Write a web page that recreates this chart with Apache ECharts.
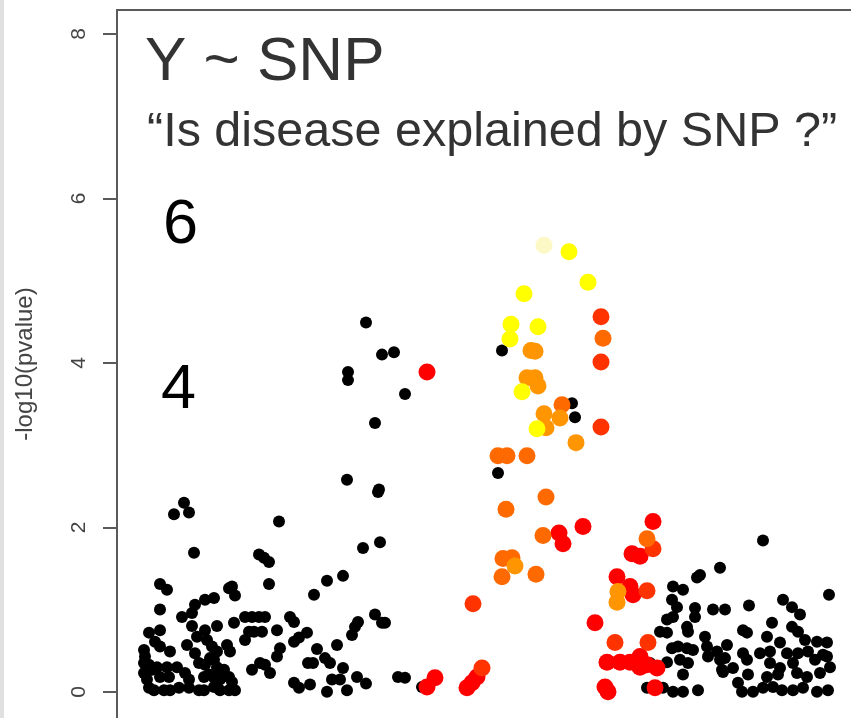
<!DOCTYPE html>
<html><head><meta charset="utf-8">
<script src="https://cdn.jsdelivr.net/npm/echarts@6/dist/echarts.min.js"></script>
<style>html,body{margin:0;padding:0;background:#fff}#c{width:851px;height:718px}</style>
</head><body><div id="c"></div>
<script>
// y-axis tick values (-log10 p)
const yTicks = [0, 2, 4, 6, 8];

// [position, -log10(pvalue)]
const blackPts = [
[67,2.30],[57,2.16],[72,2.18],[162,2.07],[77,1.69],[142,1.67],[147,1.63],[152,1.58],[152,1.31],[43,1.31],[50,1.24],[115,1.28],[112,1.26],[118,1.17],[88,1.12],[97,1.14],[78,1.06],[75,0.96],[43,1.00],[65,0.91],[128,0.91],[135,0.91],[142,0.91],[148,0.91],[173,0.91],[177,0.85],[117,0.84],[100,0.80],[75,0.80],[32,0.72],[43,0.75],[88,0.75],[132,0.73],[137,0.73],[145,0.73],[160,0.75],[128,0.63],[177,0.61],[182,0.66],[38,0.61],[43,0.55],[27,0.51],[28,0.43],[70,0.57],[53,0.49],[78,0.47],[90,0.63],[95,0.55],[100,0.49],[110,0.57],[113,0.49],[163,0.53],[160,0.43],[27,0.35],[32,0.33],[40,0.30],[50,0.30],[60,0.30],[82,0.35],[88,0.33],[97,0.39],[100,0.30],[107,0.27],[135,0.27],[143,0.35],[148,0.33],[153,0.23],[27,0.23],[30,0.15],[43,0.18],[52,0.18],[68,0.23],[72,0.15],[87,0.18],[92,0.21],[97,0.17],[103,0.15],[112,0.18],[115,0.12],[177,0.11],[182,0.05],[32,0.05],[37,0.02],[47,0.02],[53,0.02],[62,0.05],[72,0.05],[82,0.02],[87,0.02],[97,0.06],[103,0.02],[112,0.02],[118,0.02],[35,0.27],[93,0.41],[80,0.67],[102,0.24],
[261,2.43],[263,1.82],[246,1.75],[226,1.41],[210,1.35],[197,1.18],[258,0.94],[241,0.85],[238,0.79],[268,0.84],[265,0.84],[190,0.72],[235,0.69],[220,0.57],[200,0.52],[208,0.41],[213,0.35],[191,0.35],[196,0.35],[226,0.29],[215,0.15],[223,0.15],[240,0.18],[249,0.10],[193,0.09],[210,0.00],[230,0.02],[281,0.18],[288,0.17],[305,0.06],[249,4.49],[265,4.10],[277,4.13],[231,3.89],[231,3.79],[288,3.62],[258,3.27],[230,2.58],[262,2.46],
[385,4.15],[455,3.51],[458,3.34],[381,2.66],
[603,1.51],[583,1.42],[580,1.39],[556,1.28],[566,1.24],[555,1.12],[560,1.03],[578,1.02],[578,0.91],[596,1.00],[608,1.00],[550,0.88],[556,0.91],[570,0.79],[571,0.73],[543,0.73],[550,0.72],[588,0.67],[561,0.55],[570,0.53],[576,0.51],[555,0.53],[590,0.55],[591,0.43],[600,0.49],[563,0.39],[571,0.35],[550,0.36],[605,0.27],[566,0.21],[530,0.05],[546,0.05],[556,0.00],[566,0.00],[581,0.02],[533,0.35],
[646,1.84],[712,1.18],[666,1.12],[675,1.03],[683,0.94],[632,1.05],[655,0.84],[626,0.75],[630,0.72],[675,0.79],[681,0.73],[650,0.67],[610,0.57],[688,0.63],[700,0.61],[710,0.60],[663,0.60],[626,0.47],[630,0.39],[643,0.47],[653,0.49],[603,0.39],[608,0.41],[670,0.47],[681,0.47],[691,0.49],[706,0.45],[713,0.30],[616,0.29],[606,0.24],[653,0.35],[676,0.35],[698,0.39],[631,0.21],[650,0.18],[661,0.21],[680,0.23],[690,0.18],[703,0.23],[621,0.11],[625,0.00],[636,0.00],[646,0.05],[656,0.06],[665,0.02],[676,0.02],[686,0.05],[700,0.00],[711,0.02],[710,0.43],[663,0.29]
];
const paleYellowPts = [[427,5.43]];
const yellowPts = [[452,5.35],[471,4.98],[407,4.84],[394,4.47],[421,4.44],[393,4.29],[405,3.65],[420,3.20]];
const amberPts = [[414,4.15],[418,4.14],[410,3.82],[418,3.82],[421,3.72],[427,3.38],[443,3.33],[429,3.21],[459,3.03],[398,1.53],[501,1.22],[500,1.09]];
const orangePts = [[445,3.49],[381,2.87],[390,2.87],[410,2.87],[429,2.37],[389,2.22],[426,1.90],[386,1.62],[395,1.63],[385,1.40],[419,1.43],[486,4.30],[530,1.86]];
const redOrangePts = [[484,4.56],[484,4.01],[484,3.22],[356,1.07],[536,1.74],[530,1.23],[498,0.60],[531,0.60],[365,0.29]];
const redPts = [[310,3.89],[466,2.01],[536,2.07],[442,1.93],[446,1.80],[515,1.68],[523,1.65],[500,1.40],[513,1.28],[516,1.18],[478,0.84],[490,0.36],[503,0.36],[513,0.36],[523,0.43],[530,0.33],[540,0.29],[523,0.30],[488,0.06],[491,0.00],[538,0.05],[360,0.18],[355,0.11],[350,0.05],[318,0.17],[310,0.06]];

const FONT = '"Liberation Sans", Arial, Helvetica, sans-serif';
const AXIS_COLOR = '#5a5a5a';
function sc(name, data, color, size) {
  return { type: 'scatter', name, data, symbol: 'circle', symbolSize: size,
    itemStyle: { color, opacity: 1 }, clip: false, silent: true };
}

const chart = echarts.init(document.getElementById('c'), null, { renderer: 'canvas' });
chart.setOption({
  animation: false,
  backgroundColor: '#ffffff',
  grid: { left: 117, top: 10, right: 0, bottom: 0, show: false, containLabel: false, outerBoundsMode: 'none' },
  xAxis: {
    type: 'value', min: 0, max: 734, position: 'top',
    axisLine: { show: true, onZero: false, lineStyle: { color: AXIS_COLOR, width: 2 } },
    axisTick: { show: false }, axisLabel: { show: false }, splitLine: { show: false }
  },
  yAxis: {
    type: 'value', min: -0.318, max: 8.29,
    name: '-log10(pvalue)', nameLocation: 'middle', nameGap: 80, nameRotate: 90,
    nameTextStyle: { fontFamily: FONT, fontSize: 24, color: '#444' },
    axisLine: { show: true, onZero: false, lineStyle: { color: AXIS_COLOR, width: 2 } },
    axisTick: { show: true, length: 14, customValues: yTicks, lineStyle: { color: AXIS_COLOR, width: 2 } },
    axisLabel: { customValues: yTicks, rotate: 90, margin: 27, fontFamily: FONT, fontSize: 21, color: '#444' },
    splitLine: { show: false }
  },
  graphic: [
    { type: 'rect', left: 0, top: 0, shape: { width: 4, height: 718 }, style: { fill: '#e0e0e0' }, silent: true },
    { type: 'text', left: 145, top: 32, style: { text: 'Y ~ SNP', font: '62px ' + FONT, fill: '#333' } },
    { type: 'text', left: 147, top: 108, style: { text: '\u201CIs disease explained by SNP ?\u201D', font: '48.5px ' + FONT, fill: '#333' } },
    { type: 'text', left: 163, top: 194, style: { text: '6', font: '63px ' + FONT, fill: '#000' } },
    { type: 'text', left: 161, top: 359, style: { text: '4', font: '63px ' + FONT, fill: '#000' } }
  ],
  series: [
    sc('other', blackPts, '#000000', 12),
    sc('r2 0.0-0.2', redPts, '#ff0000', 17),
    sc('r2 0.2-0.4', redOrangePts, '#ff3300', 17),
    sc('r2 0.4-0.6', orangePts, '#ff6a00', 17),
    sc('r2 0.6-0.8', amberPts, '#ff9500', 17),
    sc('r2 0.8-1.0', yellowPts, '#ffff00', 17),
    sc('lead SNP', paleYellowPts, '#fdf9c6', 17)
  ]
});
</script>
</body></html>
